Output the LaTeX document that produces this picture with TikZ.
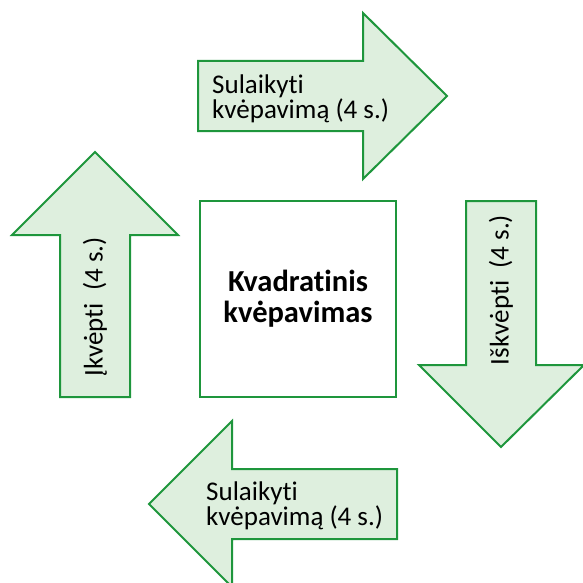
\documentclass[tikz,border=0pt]{standalone}
\usepackage{fontspec}
\setmainfont{Carlito}[Ligatures=NoCommon]
\usepackage{xcolor}
\usepackage{tikz}
\usetikzlibrary{positioning, calc}
\definecolor{arrowgreen}{RGB}{30,150,60}
\definecolor{arrowfill}{RGB}{222,239,222}

\begin{document}
\begin{tikzpicture}[
    x=1pt, y=-1pt,
    bigarrow/.style={draw=arrowgreen, fill=arrowfill, line width=2pt, line join=miter},
    arrowtext/.style={font=\fontsize{27}{25}\selectfont, align=left, inner sep=0pt},
    centerbox/.style={draw=arrowgreen, fill=white, line width=2pt, minimum size=196pt, font=\fontsize{30.5}{31}\selectfont\bfseries, align=center}
]
    \useasboundingbox (0,0) rectangle (583,583);

    % Center square
    \node[centerbox] (square) at (298,299) {Kvadratinis\\kvėpavimas};

    % Top arrow (right)
    \draw[bigarrow] (198,61) -- (363,61) -- (363,13) -- (447,96) -- (363,179) -- (363,131) -- (198,131) -- cycle;
    \node[arrowtext, anchor=west] (hold1) at (212,99) {Sulaikyti\\kvėpavimą (4 s.)};

    % Right arrow (down)
    \draw[bigarrow] (466,201) -- (536,201) -- (536,365) -- (584,365) -- (501,447) -- (419,365) -- (466,365) -- cycle;
    \node[arrowtext, rotate=90] (exhale) at (501,290) {Iškvėpti\ \ (4 s.)};

    % Bottom arrow (left)
    \draw[bigarrow] (397,469) -- (232,469) -- (232,421) -- (149,504) -- (232,587) -- (232,539) -- (397,539) -- cycle;
    \node[arrowtext, anchor=west] (hold2) at (206,506) {Sulaikyti\\kvėpavimą (4 s.)};

    % Left arrow (up)
    \draw[bigarrow] (130,397) -- (60,397) -- (60,235) -- (12,235) -- (95,152) -- (178,235) -- (130,235) -- cycle;
    \node[arrowtext, rotate=90] (inhale) at (95,307) {Įkvėpti\ \ (4 s.)};

\end{tikzpicture}
\end{document}
